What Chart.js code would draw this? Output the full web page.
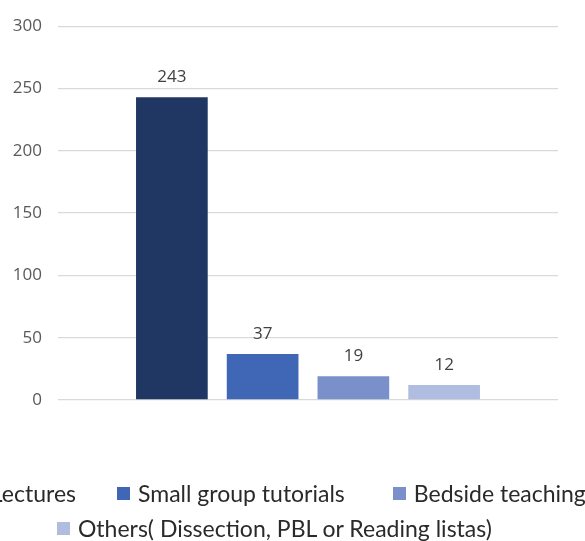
<!DOCTYPE html>
<html>
<head>
<meta charset="utf-8">
<script src="https://cdn.jsdelivr.net/npm/chart.js@4/dist/chart.umd.min.js"></script>
<style>
  html, body { margin: 0; padding: 0; background: #ffffff; }
  body { width: 585px; height: 541px; overflow: hidden; position: relative; }
  #wrap { position: absolute; left: 0; top: 0; width: 585px; height: 541px; }
  .legend-row { position: absolute; display: flex; align-items: center; gap: 48px; white-space: nowrap;
    font-family: Lato, "Open Sans", sans-serif; font-size: 23px; color: #2a2a2a; line-height: 24px; }
  .legend-item { display: flex; align-items: center; }
  .legend-box { width: 13px; height: 13px; margin-right: 8px; flex: none; }
  #legendRow1 .legend-item:first-child { margin-right: -7px; }
</style>
</head>
<body>
<div id="wrap"><canvas id="chart" width="585" height="541"></canvas></div>
<div id="legendRow1" class="legend-row" style="top:481px;"></div>
<div id="legendRow2" class="legend-row" style="top:516px; left:57px;"></div>
<script>
// Teaching methods and the number of responses for each
const categories = [''];
const seriesNames = [
  'Lectures',
  'Small group tutorials',
  'Bedside teaching',
  'Others( Dissection, PBL or Reading listas)'
];
const seriesValues = [243, 37, 19, 12];
const seriesColors = ['#213763', '#3f67b5', '#7990cb', '#b1bde0'];
const yTicks = [0, 50, 100, 150, 200, 250, 300];

const datasets = seriesNames.map((name, i) => ({
  label: name,
  data: [seriesValues[i]],
  backgroundColor: seriesColors[i],
  borderWidth: 0,
  categoryPercentage: 0.726,
  barPercentage: 0.79
}));

const numberFont = '"Open Sans", sans-serif';

// Writes each bar's value just above it
const valueLabels = {
  id: 'valueLabels',
  afterDatasetsDraw(chart) {
    const ctx = chart.ctx;
    ctx.save();
    ctx.font = '17px ' + numberFont;
    ctx.fillStyle = '#404040';
    ctx.textAlign = 'center';
    ctx.textBaseline = 'middle';
    chart.data.datasets.forEach((ds, i) => {
      const meta = chart.getDatasetMeta(i);
      meta.data.forEach((bar, j) => {
        ctx.fillText(String(ds.data[j]), bar.x, bar.y - 20);
      });
    });
    ctx.restore();
  }
};

function buildLegend(chart) {
  const items = chart.options.plugins.legend.labels.generateLabels(chart);
  const row1 = document.getElementById('legendRow1');
  const row2 = document.getElementById('legendRow2');
  items.forEach((item, i) => {
    const el = document.createElement('div');
    el.className = 'legend-item';
    const box = document.createElement('span');
    box.className = 'legend-box';
    box.style.background = item.fillStyle;
    const txt = document.createElement('span');
    txt.textContent = item.text;
    el.appendChild(box);
    el.appendChild(txt);
    (i < 3 ? row1 : row2).appendChild(el);
  });
  // First row: the second entry's swatch starts at x = 117
  const firstW = row1.children[0].getBoundingClientRect().width;
  row1.style.left = (117 - firstW - 41) + 'px';
}

function draw() {
  const chart = new Chart(document.getElementById('chart'), {
    type: 'bar',
    data: { labels: categories, datasets },
    options: {
      responsive: false,
      animation: false,
      layout: { padding: { left: 0, right: 27, top: 24, bottom: 141 } },
      plugins: { legend: { display: false }, tooltip: { enabled: false } },
      scales: {
        x: { display: false },
        y: {
          min: 0,
          max: 300,
          afterFit(scale) { scale.width = 58; },
          afterBuildTicks(scale) { scale.ticks = yTicks.map(v => ({ value: v })); },
          border: { display: false },
          grid: { color: '#d9d9d9', lineWidth: 1.3, drawTicks: false },
          ticks: {
            padding: 16,
            color: '#595959',
            font: { family: numberFont, size: 17 }
          }
        }
      }
    },
    plugins: [valueLabels]
  });
  buildLegend(chart);
}

Promise.all([
  document.fonts.load('17px "Open Sans"'),
  document.fonts.load('23px Lato')
]).then(draw, draw);
</script>
</body>
</html>
